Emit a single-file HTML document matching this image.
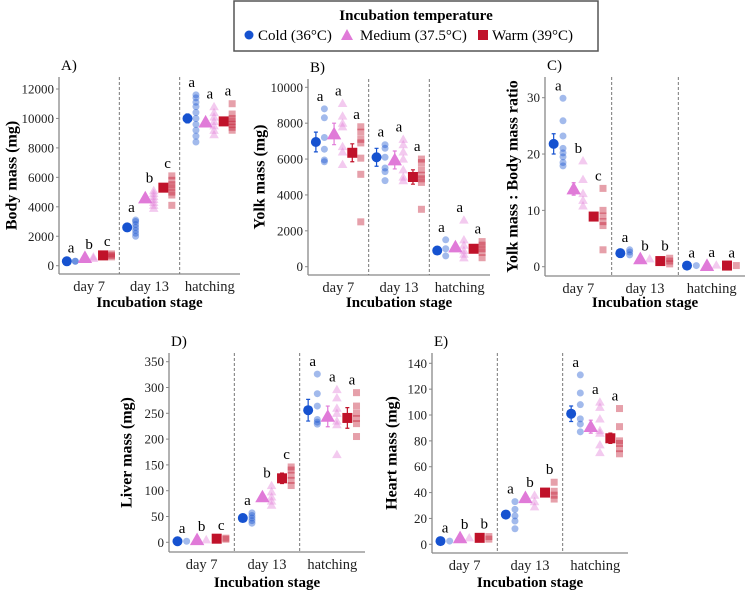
<!DOCTYPE html>
<html><head><meta charset="utf-8">
<style>
body{margin:0;background:#fff;}
svg{display:block;}
svg, svg text{font-family:"Liberation Serif","Times New Roman","DejaVu Serif",serif;}
</style></head><body>
<svg id="fig" width="749" height="597" viewBox="0 0 749 597" xmlns="http://www.w3.org/2000/svg">
<g>
<rect x="234" y="1" width="364" height="50" fill="#fff" stroke="#555" stroke-width="1.5"/>
<text x="416" y="20" text-anchor="middle" font-size="15" font-weight="bold">Incubation temperature</text>
<g><circle cx="249" cy="35" r="4.5" fill="#1652d0"/><text x="258" y="40" font-size="15">Cold (36°C)</text></g>
<g><polygon points="341,40 353,40 347,29" fill="#e07ad8"/><text x="360" y="40" font-size="15">Medium (37.5°C)</text></g>
<g><rect x="478" y="30" width="10" height="10" fill="#c0122a"/><text x="492" y="40" font-size="15">Warm (39°C)</text></g>
</g>
</svg>
<script>
const stages=['day 7','day 13','hatching'];
const groupNames=['cold','medium','warm'];
// Panel A: body mass
const bodyMeans=[[300,550,700],[2600,4600,5300],[10000,9750,9800]];
const bodyErr=[[50,50,60],[150,150,150],[300,200,200]];
const bodyPts=[[[300,300],[500,600],[600,700,800]],[[2000,2200,2400,2600,2800,3000,3100],[3900,4100,4300,4500,4700,4900,5100],[4100,4800,5000,5300,5500,5800,6100]],[[8400,8800,9200,9600,10000,10400,10800,11100,11400,11600],[8900,9200,9500,9800,10100,10400,10800],[9200,9400,9600,9800,10000,10300,11000]]];
const bodyLetters=[['a','b','c'],['a','b','c'],['a','a','a']];
const bodyTicks=[0,2000,4000,6000,8000,10000,12000];
// Panel B: yolk mass
const yolkMeans=[[6950,7400,6350],[6100,5950,5000],[900,1100,1000]];
const yolkErr=[[550,600,500],[500,500,400],[100,100,100]];
const yolkPts=[[[5850,5950,6550,7200,8300,8800],[5700,6400,6700,7800,8000,8400,9100],[2500,5150,6050,6900,7100,7500,7800]],[[4800,5300,5500,6100,6600,6800],[4800,5000,5400,6000,6400,6800,7100],[3200,4700,4900,5100,5400,5800,6000]],[[600,1000,1500],[500,700,900,1200,1500,2600],[500,800,1000,1200,1400]]];
const yolkLetters=[['a','a','a'],['a','a','a'],['a','a','a']];
const yolkTicks=[0,2000,4000,6000,8000,10000];
// Panel C: ratio
const ratioMeans=[[21.8,13.8,8.9],[2.4,1.4,1.0],[0.2,0.2,0.2]];
const ratioErr=[[1.8,1.1,0.7],[0.2,0.1,0.1],[0.05,0.05,0.05]];
const ratioPts=[[[17.9,18.5,19.5,20.2,21,23.2,25.9,29.9],[10.8,11.8,13,15.5,18.8],[3,7.3,8,9,10,13.9]],[[2.1,2.6,3],[1.4],[0.5,1,1.5]],[[0.2],[0.3],[0.2]]];
const ratioLetters=[['a','b','c'],['a','b','b'],['a','a','a']];
const ratioTicks=[0,10,20,30];
// Panel D: liver
const liverMeans=[[2,5,7],[47,88,124],[256,244,241]];
const liverErr=[[1,1,1],[3,4,10],[21,20,20]];
const liverPts=[[[2],[5],[6,8]],[[37,42,47,52,57],[72,80,88,98,110],[110,120,130,140,146]],[[229,233,238,264,288,326],[170,228,235,250,260,280,296],[205,230,240,250,264,290]]];
const liverLetters=[['a','b','c'],['a','b','c'],['a','a','a']];
const liverTicks=[0,50,100,150,200,250,300,350];
// Panel E: heart
const heartMeans=[[2.5,5,5],[23,36,40],[101,91,82]];
const heartErr=[[0.5,0.5,0.5],[2,2,2],[6,5,4]];
const heartPts=[[[2.5],[5],[4,6]],[[12,18,22,27,33],[29,33,38],[35,38,41,48]],[[87,93,97,108,117,131],[71,77,86,88,97,106,110],[70,74,78,80,91,105]]];
const heartLetters=[['a','b','b'],['a','b','b'],['a','a','a']];
const heartTicks=[0,20,40,60,80,100,120,140];

const colors=['#1652d0','#e07ad8','#c0122a'];
const NS='http://www.w3.org/2000/svg';
const svg=document.getElementById('fig');
function mk(tag,attrs,parent){const e=document.createElementNS(NS,tag);for(const k in attrs)e.setAttribute(k,attrs[k]);parent.appendChild(e);return e;}

const panels=[
 {id:'a',label:'A)',title:'Body mass (mg)',x0:59,x1:240,top:77,axisY:274,zeroPx:265.7,topPx:89,ytx:12,xtY:307,means:bodyMeans,err:bodyErr,pts:bodyPts,letters:bodyLetters,ticks:bodyTicks},
 {id:'b',label:'B)',title:'Yolk  mass (mg)',x0:308,x1:490,top:79,axisY:275,zeroPx:266.7,topPx:87.3,ytx:260,xtY:307,means:yolkMeans,err:yolkErr,pts:yolkPts,letters:yolkLetters,ticks:yolkTicks},
 {id:'c',label:'C)',title:'Yolk  mass : Body mass ratio',x0:545,x1:745,top:77,axisY:276,zeroPx:266.7,topPx:97.7,ytx:513,xtY:307,means:ratioMeans,err:ratioErr,pts:ratioPts,letters:ratioLetters,ticks:ratioTicks},
 {id:'d',label:'D)',title:'Liver  mass (mg)',x0:169,x1:365,top:353,axisY:552,zeroPx:542.3,topPx:361.7,ytx:127,xtY:587,means:liverMeans,err:liverErr,pts:liverPts,letters:liverLetters,ticks:liverTicks},
 {id:'e',label:'E)',title:'Heart  mass (mg)',x0:432,x1:628,top:353,axisY:553,zeroPx:544.3,topPx:363.3,ytx:392,xtY:587,means:heartMeans,err:heartErr,pts:heartPts,letters:heartLetters,ticks:heartTicks}
];

function marker(g,shape,cx,cy,s,fill,op){
 if(shape===0) return mk('circle',{cx:cx,cy:cy,r:s*0.5,fill:fill,'fill-opacity':op},g);
 if(shape===1) return mk('polygon',{points:(cx-s*0.6)+','+(cy+s*0.45)+' '+(cx+s*0.6)+','+(cy+s*0.45)+' '+cx+','+(cy-s*0.6),fill:fill,'fill-opacity':op},g);
 return mk('rect',{x:cx-s*0.5,y:cy-s*0.5,width:s,height:s,fill:fill,'fill-opacity':op},g);
}

panels.forEach(p=>{
 const g=mk('g',{},svg);
 
 
 const tmax=p.ticks[p.ticks.length-1];
 const y=v=>p.zeroPx+(p.topPx-p.zeroPx)*v/tmax;
 const w=(p.x1-p.x0)/3;
 const cx=i=>p.x0+w*(i+0.5);
 const off=[[-0.37,-0.23],[-0.07,0.07],[0.23,0.37]];
 const ya=mk('line',{x1:p.x0,y1:p.top,x2:p.x0,y2:p.axisY,stroke:'#888','stroke-width':1.3},g);
 
 
 const xa=mk('line',{x1:p.x0,y1:p.axisY,x2:p.x1,y2:p.axisY,stroke:'#888','stroke-width':1.3},g);
 
 
 p.ticks.forEach(t=>{
  mk('line',{x1:p.x0-3,y1:y(t),x2:p.x0,y2:y(t),stroke:'#888'},g);
  const tl=mk('text',{x:p.x0-5,y:y(t)+4.5,'text-anchor':'end','font-size':13,fill:'#222'},g);
  tl.textContent=t;
  
  
 });
 [1,2].forEach(k=>{
  const d=mk('line',{x1:p.x0+w*k,y1:p.top,x2:p.x0+w*k,y2:p.axisY,stroke:'#777','stroke-dasharray':'3,2','stroke-width':1},g);
  
  
 });
 stages.forEach((s,i)=>{
  const t=mk('text',{x:cx(i),y:p.axisY+17,'text-anchor':'middle','font-size':14.5,fill:'#222'},g);
  t.textContent=s;
  
  
 });
 const pl=mk('text',{x:p.x0+2,y:p.top-7,'font-size':15},g);
 pl.textContent=p.label;
 
 
 const xt=mk('text',{x:(p.x0+p.x1)/2,y:p.xtY,'text-anchor':'middle','font-size':15,'font-weight':'bold'},g);
 xt.textContent='Incubation stage';
 
 
 const ymid=(p.top+p.axisY)/2;
 const yt=mk('text',{x:p.ytx,y:ymid,'text-anchor':'middle','font-size':16,'font-weight':'bold',transform:'rotate(-90 '+p.ytx+' '+ymid+')','dominant-baseline':'central'},g);
 yt.textContent=p.title;
 
 
 stages.forEach((s,i)=>{
  groupNames.forEach((gn,j)=>{
   const mx=cx(i)+off[j][0]*w, px=cx(i)+off[j][1]*w;
   const pts=p.pts[i][j];
   pts.forEach(v=>{
    const m=marker(g,j,px,y(v),j===1?8:7,colors[j],0.4);
    
    
   });
   const mv=p.means[i][j], e=p.err[i][j];
   const eb=mk('path',{d:'M'+mx+','+y(mv-e)+'V'+y(mv+e)+'M'+(mx-2)+','+y(mv-e)+'h4M'+(mx-2)+','+y(mv+e)+'h4',stroke:colors[j],'stroke-width':1.2,fill:'none'},g);
   
   
   const mm=marker(g,j,mx,y(mv),j===1?12:10,colors[j],1);
   
   
   const top=Math.max(Math.max(...pts),mv+e);
   const lt=mk('text',{x:(mx+px)/2,y:y(top)-8,'text-anchor':'middle','font-size':15},g);
   lt.textContent=p.letters[i][j];
   
   
  });
 });
});
</script>
</body></html>
